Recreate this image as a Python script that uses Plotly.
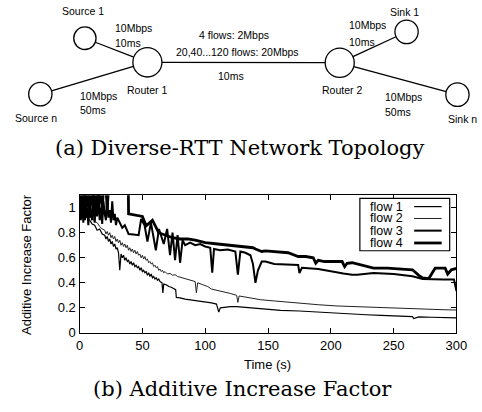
import math
import plotly.graph_objects as go

# ---------------- data ----------------
flow1_t = [0, 2, 4, 6, 8, 10, 12, 14, 16, 18, 20, 21, 22, 23, 24, 25, 26, 27, 28, 29, 30, 31, 32, 33, 34, 35, 36, 37, 38, 39, 40, 41, 42, 43, 44, 45, 46, 47, 48, 49, 50, 51, 52, 53, 54, 55, 56, 57, 58, 59, 60, 61, 62, 63, 64, 65.6, 66.3, 67, 69, 71, 73, 75, 76.5, 77, 80, 84, 88, 93, 97, 101, 105, 109, 110.8, 112, 116, 120, 125, 130, 135, 140, 150, 160, 175, 190, 200, 215, 228, 240, 250, 260, 265, 266, 270, 280, 290, 300]
flow1_v = [1.0, 0.96, 0.97, 0.92, 0.9, 0.87, 0.86, 0.82, 0.83, 0.79, 0.78, 0.75, 0.77, 0.73, 0.75, 0.71, 0.73, 0.69, 0.71, 0.67, 0.68, 0.64, 0.50, 0.63, 0.60, 0.62, 0.58, 0.60, 0.57, 0.58, 0.55, 0.57, 0.54, 0.56, 0.53, 0.54, 0.52, 0.53, 0.50, 0.52, 0.49, 0.50, 0.48, 0.49, 0.46, 0.48, 0.45, 0.47, 0.44, 0.45, 0.43, 0.44, 0.42, 0.43, 0.41, 0.40, 0.32, 0.39, 0.385, 0.37, 0.365, 0.35, 0.345, 0.283, 0.28, 0.27, 0.265, 0.257, 0.25, 0.245, 0.24, 0.23, 0.166, 0.20, 0.205, 0.21, 0.21, 0.205, 0.20, 0.195, 0.19, 0.18, 0.175, 0.165, 0.16, 0.15, 0.145, 0.14, 0.135, 0.132, 0.13, 0.115, 0.128, 0.125, 0.122, 0.12]

flow2_t = [0, 2, 4, 6, 8, 10, 12, 14, 16, 18, 20, 21, 22, 23, 24, 25, 26, 27, 28, 29, 30, 31, 32, 33, 34, 35, 36, 37, 38, 39, 40, 41, 42, 43, 44, 45, 46, 47, 48, 49, 50, 51, 52, 53, 54, 55, 56, 57, 58, 59, 60, 61, 62, 63, 64, 65, 66, 67, 68, 70, 72, 74, 76, 78, 80, 82, 84, 86, 88, 90, 92, 93, 94, 98, 102, 105, 110, 115, 120, 125, 126, 127, 132, 138, 144, 155, 165, 175, 190, 205, 217, 230, 245, 260, 275, 290, 300]
flow2_v = [1.0, 1.02, 0.97, 0.98, 0.93, 0.92, 0.89, 0.88, 0.85, 0.83, 0.82, 0.79, 0.81, 0.78, 0.80, 0.76, 0.78, 0.75, 0.77, 0.73, 0.75, 0.72, 0.74, 0.70, 0.72, 0.69, 0.71, 0.68, 0.70, 0.66, 0.68, 0.65, 0.67, 0.64, 0.66, 0.63, 0.65, 0.62, 0.63, 0.60, 0.62, 0.59, 0.61, 0.58, 0.59, 0.56, 0.57, 0.55, 0.56, 0.53, 0.54, 0.52, 0.53, 0.50, 0.51, 0.49, 0.50, 0.48, 0.49, 0.47, 0.475, 0.46, 0.465, 0.45, 0.445, 0.44, 0.435, 0.43, 0.42, 0.415, 0.41, 0.32, 0.40, 0.385, 0.37, 0.35, 0.34, 0.325, 0.315, 0.30, 0.244, 0.295, 0.285, 0.275, 0.265, 0.255, 0.245, 0.235, 0.225, 0.215, 0.21, 0.205, 0.2, 0.195, 0.19, 0.185, 0.183]

flow3_t = [0, 1, 2, 3, 4, 5, 6, 7, 8, 9, 10, 11, 12, 13, 14, 15, 16, 17, 18, 19, 20, 21, 22, 23, 24, 25, 26, 27, 28, 29, 30, 32, 34, 36, 38, 39, 43, 47, 49, 51.7, 54, 56.8, 60.7, 63.2, 67, 69.7, 72, 74, 76, 78, 80, 82, 84, 88, 92, 96, 100, 104, 105.6, 107, 112, 118, 124, 126, 128, 132, 136, 138, 140, 142, 145, 148, 155, 166, 174, 175, 177, 190, 202, 210, 217, 221, 234, 250, 265, 273, 290, 298, 300]
flow3_v = [1.0, 0.9, 1.05, 0.88, 1.1, 0.92, 1.0, 0.86, 1.08, 0.95, 0.9, 1.1, 0.88, 1.02, 0.93, 1.12, 0.9, 1.0, 0.87, 1.05, 0.95, 0.9, 1.08, 0.92, 0.98, 0.88, 1.05, 0.9, 0.95, 0.86, 0.92, 0.88, 0.84, 0.86, 0.82, 0.79, 0.785, 0.78, 0.91, 0.86, 0.73, 0.88, 0.66, 0.83, 0.71, 0.83, 0.62, 0.80, 0.58, 0.78, 0.56, 0.74, 0.70, 0.72, 0.70, 0.71, 0.69, 0.68, 0.48, 0.67, 0.66, 0.665, 0.65, 0.465, 0.65, 0.64, 0.62, 0.55, 0.40, 0.50, 0.57, 0.57, 0.55, 0.543, 0.543, 0.478, 0.52, 0.51, 0.486, 0.475, 0.465, 0.465, 0.478, 0.47, 0.452, 0.431, 0.426, 0.426, 0.334]

flow4_t = [0, 1, 2, 3, 4, 5, 6, 7, 8, 9, 10, 11, 12, 13, 14, 15, 16, 17, 18, 19, 20, 21, 22, 23, 24, 25, 30, 35, 38.8, 39, 45, 50, 53, 58, 63, 68, 74, 80, 86, 92, 100, 110, 120, 130, 138, 140, 145, 148, 160, 166, 174, 180, 186, 188, 190, 195, 202, 209, 211, 213, 217, 221, 228, 234, 245, 255, 265, 270, 273, 278, 283, 291, 293, 296, 300]
flow4_v = [1.0, 1.12, 0.95, 1.15, 0.9, 1.12, 1.0, 1.15, 0.92, 1.13, 1.02, 1.15, 0.95, 1.12, 1.15, 1.0, 1.15, 1.12, 0.98, 1.15, 1.12, 1.15, 1.0, 1.15, 1.12, 1.15, 1.15, 1.15, 1.15, 0.95, 0.94, 0.93, 0.855, 0.9, 0.80, 0.78, 0.76, 0.75, 0.75, 0.74, 0.72, 0.71, 0.70, 0.69, 0.68, 0.67, 0.65, 0.655, 0.645, 0.64, 0.61, 0.61, 0.60, 0.556, 0.58, 0.57, 0.57, 0.57, 0.53, 0.556, 0.56, 0.55, 0.53, 0.517, 0.517, 0.51, 0.504, 0.46, 0.44, 0.434, 0.517, 0.517, 0.47, 0.504, 0.515]

series_names = ["flow 1", "flow 2", "flow 3", "flow 4"]
x_ticks = [0, 50, 100, 150, 200, 250, 300]
y_ticks = [0, 0.2, 0.4, 0.6, 0.8, 1]
y_tick_labels = ["0", "0.2", "0.4", "0.6", "0.8", "1"]

# ---------------- styling ----------------
W, H = 482, 412
SANS = "Liberation Sans, Arial, sans-serif"
SERIF = "DejaVu Serif, serif"
widths = [1.2, 1.0, 2.0, 2.8]
colors = ["#000000", "#222222", "#000000", "#000000"]

fig = go.Figure()
series = [(flow1_t, flow1_v), (flow2_t, flow2_v), (flow3_t, flow3_v), (flow4_t, flow4_v)]
for (t, v), name, w, c in zip(series, series_names, widths, colors):
    fig.add_trace(go.Scatter(x=t, y=v, mode="lines", name=name,
                             line=dict(color=c, width=w), showlegend=False))

# plot-area in pixels
PL, PR, PT, PB = 78, 467, 199, 339.5

fig.update_layout(
    width=W, height=H, margin=dict(l=0, r=0, t=0, b=0),
    paper_bgcolor="white", plot_bgcolor="white",
    xaxis=dict(domain=[PL / W, PR / W], range=[0, 300], tickvals=x_ticks,
               ticks="inside", ticklen=5, tickcolor="black", showline=True,
               linecolor="black", linewidth=1.3, mirror="ticks", showgrid=False,
               zeroline=False, tickfont=dict(family=SANS, size=13, color="black")),
    yaxis=dict(domain=[1 - PB / H, 1 - PT / H], range=[0, 1.1], tickvals=y_ticks,
               ticktext=y_tick_labels, ticks="inside", ticklen=5, tickcolor="black",
               showline=True, linecolor="black", linewidth=1.3, mirror="ticks",
               showgrid=False, zeroline=False,
               tickfont=dict(family=SANS, size=13, color="black")),
)

shapes = []
annotations = []

def X(px):
    return px / W

def Y(py):
    return 1 - py / H

def px_text(x, y, text, size=10.5, xanchor="center", family=SANS, angle=0):
    annotations.append(dict(x=X(x), y=Y(y), xref="paper", yref="paper", text=text,
                            showarrow=False, xanchor=xanchor, yanchor="middle",
                            textangle=angle,
                            font=dict(family=family, size=size, color="black")))

# ---------------- topology diagram ----------------
nodes = {  # name: (cx, cy, r) in pixels
    "s1": (83.5, 39, 11.5), "sn": (37.5, 96, 12), "r1": (148, 63.5, 15),
    "r2": (346.5, 64, 15), "k1": (415.5, 32.5, 12), "kn": (468, 96.5, 12),
}
links = [("s1", "r1"), ("sn", "r1"), ("r1", "r2"), ("r2", "k1"), ("r2", "kn")]
for a, b in links:
    ax, ay, ar = nodes[a]
    bx, by, br = nodes[b]
    d = math.hypot(bx - ax, by - ay)
    ux, uy = (bx - ax) / d, (by - ay) / d
    shapes.append(dict(type="line", xref="paper", yref="paper",
                       x0=X(ax + ux * ar), y0=Y(ay + uy * ar),
                       x1=X(bx - ux * br), y1=Y(by - uy * br),
                       line=dict(color="black", width=1.3)))
for cx, cy, r in nodes.values():
    shapes.append(dict(type="circle", xref="paper", yref="paper",
                       x0=X(cx - r), x1=X(cx + r), y0=Y(cy + r), y1=Y(cy - r),
                       line=dict(color="black", width=1.3), fillcolor="white"))

px_text(81.5, 11.5, "Source 1")
px_text(113, 28.5, "10Mbps", xanchor="left")
px_text(113, 44, "10ms", xanchor="left")
px_text(148, 92, "Router 1")
px_text(76, 97.5, "10Mbps", xanchor="left")
px_text(76, 112.5, "50ms", xanchor="left")
px_text(33.5, 120, "Source n")
px_text(237, 35.5, "4 flows: 2Mbps")
px_text(240.5, 53.5, "20,40...120 flows: 20Mbps")
px_text(234, 78, "10ms")
px_text(354, 26, "10Mbps", xanchor="left")
px_text(354, 42.5, "10ms", xanchor="left")
px_text(413, 12.5, "Sink 1")
px_text(348.5, 92, "Router 2")
px_text(391, 99, "10Mbps", xanchor="left")
px_text(391, 114, "50ms", xanchor="left")
px_text(456, 121.5, "Sink n", xanchor="left")

# captions
px_text(243.5, 151, "(a) Diverse-RTT Network Topology", size=21, family=SERIF)
px_text(246, 397, "(b) Additive Increase Factor", size=21, family=SERIF)

# axis titles
px_text(24, 270, "Additive Increase Factor", size=13, angle=-90)
px_text(272, 371.5, "Time (s)", size=13)

# ---------------- legend (gnuplot style: text then sample) ----------------
shapes.append(dict(type="rect", xref="paper", yref="paper", x0=X(367.3), x1=X(460),
                   y0=Y(255.7), y1=Y(202.3), line=dict(color="black", width=1.2),
                   fillcolor="white"))
leg_y = [210.7, 222.8, 235.2, 247.8]
for name, yy, w, c in zip(series_names, leg_y, widths, colors):
    px_text(413.5, yy, name, size=12.5, xanchor="right")
    shapes.append(dict(type="line", xref="paper", yref="paper", x0=X(423.3), x1=X(451.7),
                       y0=Y(yy), y1=Y(yy), line=dict(color=c, width=w)))

fig.update_layout(shapes=shapes, annotations=annotations)
fig.write_html("out.html", config={"displayModeBar": False},
               post_script="document.body.style.margin='0';document.body.style.overflow='hidden';")
